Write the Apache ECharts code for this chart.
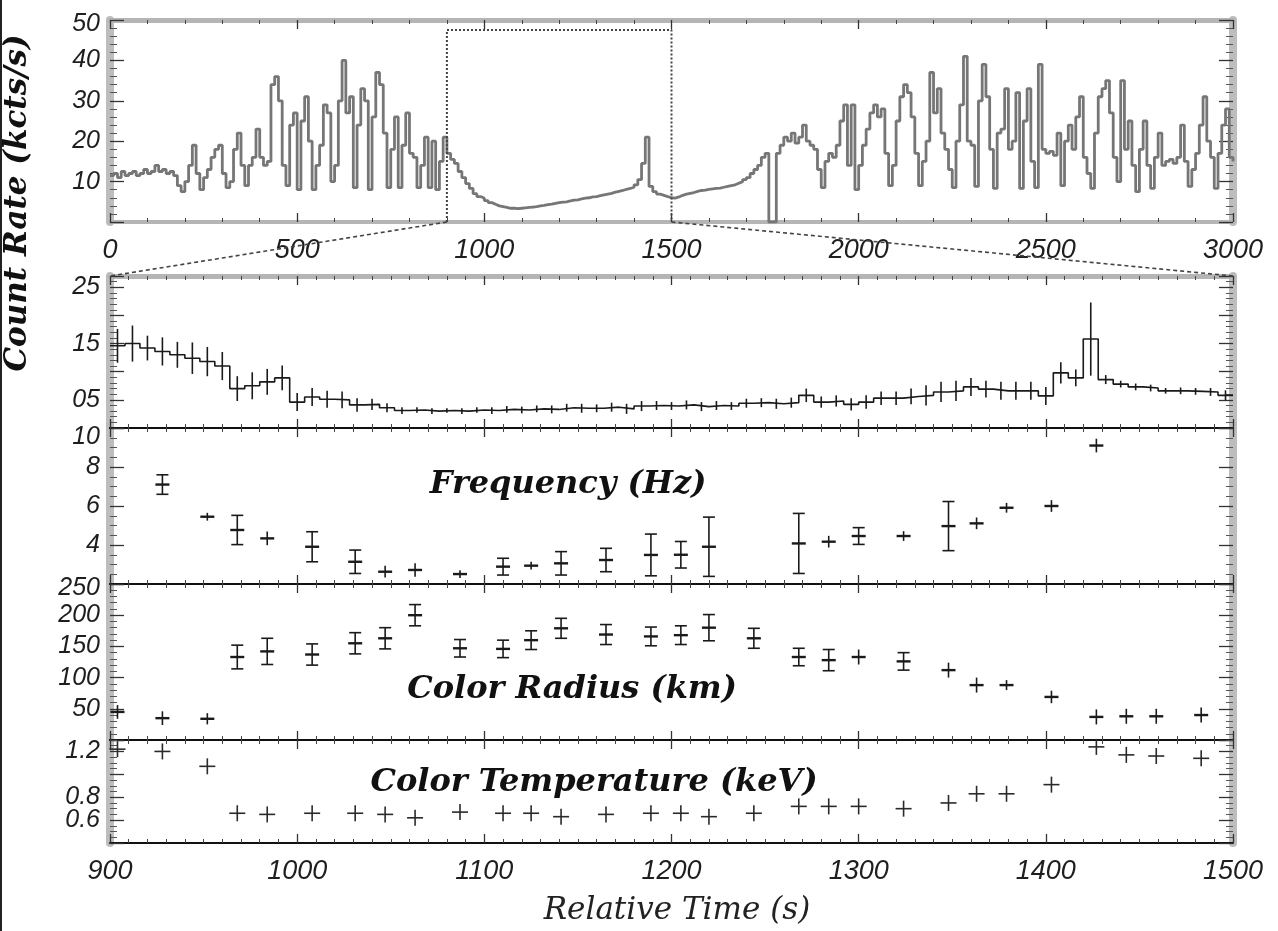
<!DOCTYPE html>
<html><head><meta charset="utf-8">
<script src="https://cdn.jsdelivr.net/npm/echarts@6/dist/echarts.min.js"></script>
<style>html,body{margin:0;padding:0;background:#fff}#c{width:1278px;height:931px}</style>
</head><body><div id="c"></div>
<script>
// ---------- DATA ----------
// Top panel: full light curve, one value every lcStep seconds starting at t=0
const lcStep = 10;
const lcRate = [
  11.5,12,11,12.5,11.5,12,12.5,11.5,12,13,
  12,12.5,14,12.5,13,12,12.5,11.5,9,7.5,
  10,14,19,12,8,11,13,16,18,19,
  12,8.5,10,18,22,14,9,14,16,23,
  16,14,15,34,36,30,14,9,24,27,
  8,25,31,20,8,14,19,29,27,10,
  14,30,40,27,31,8.5,24,33,30,8,
  26,37,34,22,8.5,18,26,8.5,19,27,
  17,16,8.5,14,21,8.5,20,8,15,21,
  17,15.5,14.5,12.5,11,9.5,8.3,7,6.3,5.9,
  5.3,4.8,4.4,4,3.8,3.6,3.4,3.4,3.3,3.4,
  3.5,3.6,3.7,3.8,4,4.1,4.3,4.4,4.6,4.8,
  4.9,5,5.2,5.4,5.5,5.7,5.9,6,6.2,6.3,
  6.5,6.7,6.9,7.1,7.4,7.6,7.8,8.1,8.3,8.6,
  9.2,10.5,14.5,21,8.8,7.5,6.9,6.6,6.3,6,
  5.9,6.2,6.6,6.9,7.1,7.3,7.6,7.8,7.9,8.1,
  8.2,8.3,8.4,8.6,8.8,9,9.2,9.6,10,10.5,
  11,12,13,14,16,17,0,0,17,19,
  21,20,22,19.5,21,24,20,19,18,13,
  8.5,15,17,16,19,25,29,14,29,8,
  14,19,23,27,29,26,28,17,9,14,
  25,31,34,32,26,17,9,15,20,37,
  27,33,22,18,13,8.5,20,29,41,20,
  19,8.8,30,39,31,18,8.3,22,23,33,
  18,20,32,8.3,25,33,15,8.5,39,18,
  17,17.5,16.5,22,9,20,24,18,26,31,
  16,12,8.3,22,31,33,35,27,16,10,
  35,18,25,14,7.5,18,25,14,8.3,16,
  22,14,15,15.5,14.5,16,24,15,8.8,13,
  17,24,31,20,16,8.3,17,24,28,16,
  15
];
// zoom box drawn on the top panel
const boxTime = [900, 1500];
const boxTop = 47.5;

// Second panel: binned count rate 900-1500 s
const zoomBinStart = 900;
const zoomBinWidth = 8;
const zoomRate = [
  14.6,15,14.2,13.6,13,12.4,11.8,11,7,7.5,
  8.2,8.9,4.6,5.5,5.1,5,4.1,4.2,3.6,3.1,
  3.2,3.0,3.1,3.0,3.2,3.1,3.3,3.2,3.4,3.3,
  3.6,3.5,3.5,3.7,3.4,3.9,4.0,3.9,4.1,3.8,
  4.0,3.9,4.4,4.5,4.3,4.5,5.8,4.6,4.8,4.2,
  4.6,5.3,5.3,5.6,5.8,6.4,6.6,7.3,6.9,6.6,
  6.6,6.6,5.7,9.8,8.9,15.8,8.6,7.8,7.3,7.1,
  6.6,6.6,6.5,6.4,5.8
];
const zoomErr = [
  3,3.2,2.2,2.5,2.3,2.8,2.6,2.5,2.2,2.4,
  2.3,2.2,1.6,1.6,1.5,1.5,1.2,1.0,0.8,0.6,
  0.5,0.5,0.4,0.5,0.5,0.6,0.6,0.6,0.6,0.7,
  0.7,0.8,0.7,0.8,0.9,0.9,0.8,0.7,0.8,0.8,
  0.8,0.7,0.8,0.8,0.9,0.9,1.2,1.0,1.0,1.1,
  1.2,1.2,1.2,1.4,1.8,1.8,1.8,1.6,1.5,1.6,
  1.6,1.6,1.6,1.9,1.5,6.5,0.8,0.6,0.6,0.6,
  0.5,0.6,0.6,0.7,0.9
];

// Spectral fits (time of each fit)
const specTime = [904,928,952,968,984,1008,1031,1047,1063,1087,1110,1125,1141,1165,1189,1205,1220,1244,1268,1284,1300,1324,1348,1363,1379,1403,1427,1443,1459,1483];
const freqVal = [null,7.1,5.45,4.77,4.34,3.91,3.14,2.63,2.72,2.51,2.89,2.94,3.06,3.23,3.49,3.5,3.91,null,4.08,4.17,4.46,4.46,4.97,5.11,5.91,6.0,9.1,null,null,null];
const freqErr = [null,0.5,0.2,0.75,0.35,0.77,0.6,0.3,0.35,0.2,0.43,0.2,0.6,0.6,1.07,0.68,1.52,null,1.54,0.3,0.43,0.25,1.26,0.3,0.25,0.3,0.35,null,null,null];
const radiusVal = [45,35,34,133,142,137,155,163,200,147,146,160,179,169,166,168,180,163,133,128,133,126,112,88,88,69,37,38,38,40];
const radiusErr = [11,11,9,19,21,17,17,17,17,14,14,15,16,16,15,15,21,16,14,17,12,14,12,12,8,10,12,12,12,12];
const tempVal = [1.22,1.2,1.07,0.66,0.65,0.66,0.66,0.65,0.62,0.67,0.66,0.66,0.63,0.65,0.66,0.66,0.63,0.66,0.72,0.72,0.72,0.70,0.75,0.83,0.83,0.91,1.24,1.17,1.16,1.14];

// tick labels
const topXLabels = [0,500,1000,1500,2000,2500,3000];
const topYLabels = [10,20,30,40,50];
const zoomYLabelValues = [5,15,25];
const zoomYLabelTexts = ['05','15','25'];
const freqYLabels = [4,6,8,10];
const radiusYLabels = [50,100,150,200,250];
const tempYLabels = [0.6,0.8,1.2];
const bottomXLabels = [900,1000,1100,1200,1300,1400,1500];

// ---------- CHART ----------
const chart = echarts.init(document.getElementById('c'), null, {renderer:'canvas'});
const gridLeft = 110, gridRight = 45;
const panels = [
  {top:20, height:202},
  {top:276, height:152},
  {top:428, height:156},
  {top:584, height:156},
  {top:740, height:103}
];
const labelFamily = '"Liberation Sans", Arial, sans-serif';
const tickFont = {fontFamily:labelFamily, fontStyle:'italic', fontSize:25, color:'#1e1e1e'};

function pick(values, texts, shiftValue, shiftStyle) {
  return function (v) {
    for (let i = 0; i < values.length; i++) {
      if (Math.abs(values[i] - v) < 1e-6) {
        const s = texts ? texts[i] : String(values[i]);
        return (shiftValue != null && Math.abs(shiftValue - v) < 1e-6) ? '{' + shiftStyle + '|' + s + '}' : s;
      }
    }
    return '';
  };
}

const grids = panels.map(p => ({left:gridLeft, right:gridRight, top:p.top, height:p.height, outerBoundsMode:'none', containLabel:false}));

const xAxes = [], yAxes = [];
const yCfg = [
  {min:0, max:50, interval:10, minor:5, fmt:pick(topYLabels, null, 50, 'd1')},
  {min:0, max:27, interval:5, minor:5, fmt:pick(zoomYLabelValues, zoomYLabelTexts)},
  {min:2, max:10, interval:2, minor:4, fmt:pick(freqYLabels, null, 10, 'd2')},
  {min:0, max:250, interval:50, minor:5, fmt:pick(radiusYLabels, null, 250, 'd1')},
  {min:0.4, max:1.3, interval:0.2, minor:4, fmt:pick(tempYLabels)}
];
const richDown = {
  d1:{padding:[8,0,0,0], fontFamily:labelFamily, fontStyle:'italic', fontSize:25, color:'#1e1e1e'},
  d2:{padding:[18,0,0,0], fontFamily:labelFamily, fontStyle:'italic', fontSize:25, color:'#1e1e1e'}
};
panels.forEach((p, i) => {
  const isTop = i === 0;
  const xmin = isTop ? 0 : 900, xmax = isTop ? 3000 : 1500, xint = isTop ? 500 : 100;
  const showBottomLabels = (i === 0 || i === 4);
  const bottomLineColor = isTop ? '#b5b5b5' : '#111';
  const bottomLineWidth = isTop ? 4 : 2;
  const topLineColor = (i <= 1) ? '#b5b5b5' : '#111';
  const topLineWidth = (i <= 1) ? 5 : 2;
  xAxes.push({
    gridIndex:i, type:'value', position:'bottom', min:xmin, max:xmax, interval:xint,
    axisLine:{show:true, onZero:false, lineStyle:{color:bottomLineColor, width:bottomLineWidth}},
    axisTick:{show:true, inside:true, length:9, lineStyle:{color:'#333', width:1.3}},
    minorTick:{show:true, splitNumber: isTop ? 5 : 10, length:4, lineStyle:{color:'#444', width:1}},
    splitLine:{show:false},
    axisLabel:{show:showBottomLabels, margin:15, ...tickFont, fontSize:27, showMinLabel:true, showMaxLabel:true,
      formatter: pick(isTop ? topXLabels : bottomXLabels)}
  });
  xAxes.push({
    gridIndex:i, type:'value', position:'top', min:xmin, max:xmax, interval:xint,
    axisLine:{show:true, onZero:false, lineStyle:{color:topLineColor, width:topLineWidth}},
    axisTick:{show:true, inside:true, length:9, lineStyle:{color:'#333', width:1.3}},
    minorTick:{show:true, splitNumber: isTop ? 5 : 10, length:4, lineStyle:{color:'#444', width:1}},
    splitLine:{show:false}, axisLabel:{show:false}
  });
  const c = yCfg[i];
  yAxes.push({
    gridIndex:i, type:'value', position:'left', min:c.min, max:c.max, interval:c.interval,
    axisLine:{show:true, onZero:false, lineStyle:{color:'#bdbdbd', width:8}},
    axisTick:{show:true, inside:true, length:14, lineStyle:{color:'#333', width:1.3}},
    minorTick:{show:true, splitNumber:c.minor, length:7, lineStyle:{color:'#555', width:1}},
    splitLine:{show:false},
    axisLabel:{show:true, margin:10, ...tickFont, showMinLabel:true, showMaxLabel:true, hideOverlap:false, formatter:c.fmt, rich:richDown}
  });
  yAxes.push({
    gridIndex:i, type:'value', position:'right', min:c.min, max:c.max, interval:c.interval,
    axisLine:{show:true, onZero:false, lineStyle:{color:'#bdbdbd', width:8}},
    axisTick:{show:true, inside:true, length:14, lineStyle:{color:'#333', width:1.3}},
    minorTick:{show:true, splitNumber:c.minor, length:7, lineStyle:{color:'#555', width:1}},
    splitLine:{show:false}, axisLabel:{show:false}
  });
});

const lcData = lcRate.map((v, i) => [i * lcStep, v]);
const boxData = [[boxTime[0], 0], [boxTime[0], boxTop], [boxTime[1], boxTop], [boxTime[1], 0]];
const zoomStep = zoomRate.map((v, i) => [zoomBinStart + i * zoomBinWidth, v]);
zoomStep.push([zoomBinStart + zoomRate.length * zoomBinWidth, zoomRate[zoomRate.length - 1]]);
const zoomErrData = zoomRate.map((v, i) => [zoomBinStart + (i + 0.5) * zoomBinWidth, v, zoomErr[i]]);
const freqData = [], radiusData = [], tempData = [];
specTime.forEach((t, i) => {
  if (freqVal[i] != null) freqData.push([t, freqVal[i], freqErr[i]]);
  radiusData.push([t, radiusVal[i], radiusErr[i]]);
  tempData.push([t, tempVal[i]]);
});

function errorBarItem(capHalf, midHalf, color, width) {
  return function (params, api) {
    const x = api.value(0), y = api.value(1), e = api.value(2);
    const c = api.coord([x, y]);
    const lo = api.coord([x, y - e]);
    const hi = api.coord([x, y + e]);
    const st = {stroke: color, lineWidth: width};
    const ch = [{type:'line', shape:{x1:c[0], y1:hi[1], x2:c[0], y2:lo[1]}, style:st}];
    if (capHalf > 0 && (lo[1] - hi[1]) > 16) {
      ch.push({type:'line', shape:{x1:c[0]-capHalf, y1:hi[1], x2:c[0]+capHalf, y2:hi[1]}, style:st});
      ch.push({type:'line', shape:{x1:c[0]-capHalf, y1:lo[1], x2:c[0]+capHalf, y2:lo[1]}, style:st});
    }
    if (midHalf > 0) {
      ch.push({type:'line', shape:{x1:c[0]-midHalf, y1:c[1], x2:c[0]+midHalf, y2:c[1]}, style:{stroke: color, lineWidth: width + 0.8}});
    }
    return {type:'group', children: ch};
  };
}
function plusItem(half, color, width) {
  return function (params, api) {
    const c = api.coord([api.value(0), api.value(1)]);
    const st = {stroke: color, lineWidth: width};
    return {type:'group', children:[
      {type:'line', shape:{x1:c[0]-half, y1:c[1], x2:c[0]+half, y2:c[1]}, style:st},
      {type:'line', shape:{x1:c[0], y1:c[1]-half, x2:c[0], y2:c[1]+half}, style:st}
    ]};
  };
}

const option = {
  backgroundColor:'#fff',
  animation:false,
  grid: grids,
  xAxis: xAxes,
  yAxis: yAxes,
  series: [
    {type:'line', xAxisIndex:0, yAxisIndex:0, data:lcData, step:'end', symbol:'none',
      lineStyle:{color:'#767676', width:2.8}, z:3},
    {type:'line', xAxisIndex:0, yAxisIndex:0, data:boxData, symbol:'none',
      lineStyle:{color:'#444', width:2, type:'dotted'}, z:5},
    {type:'line', xAxisIndex:2, yAxisIndex:2, data:zoomStep, step:'end', symbol:'none',
      lineStyle:{color:'#1a1a1a', width:1.6}, z:4},
    {type:'custom', xAxisIndex:2, yAxisIndex:2, data:zoomErrData, renderItem:errorBarItem(0, 0, '#1a1a1a', 1.6), z:4, clip:true},
    {type:'custom', xAxisIndex:4, yAxisIndex:4, data:freqData, renderItem:errorBarItem(6, 7, '#1a1a1a', 1.6), z:4},
    {type:'custom', xAxisIndex:6, yAxisIndex:6, data:radiusData, renderItem:errorBarItem(6, 7, '#1a1a1a', 1.6), z:4},
    {type:'custom', xAxisIndex:8, yAxisIndex:8, data:tempData, renderItem:plusItem(8, '#2a2a2a', 1.6), z:4}
  ]
};
chart.setOption(option);

// connector lines from the zoom box to the second panel, and titles
const pA = chart.convertToPixel({xAxisIndex:0, yAxisIndex:0}, [boxTime[0], 0]);
const pB = chart.convertToPixel({xAxisIndex:0, yAxisIndex:0}, [boxTime[1], 0]);
const pC = chart.convertToPixel({xAxisIndex:2, yAxisIndex:2}, [boxTime[0], 27]);
const pD = chart.convertToPixel({xAxisIndex:2, yAxisIndex:2}, [boxTime[1], 27]);
const dash = {stroke:'#444', lineWidth:1.6, lineDash:[4,3]};
const titleFont = 'bold italic 32px "DejaVu Serif", serif';
chart.setOption({
  graphic: {elements: [
    {id:'edge', type:'line', shape:{x1:1, y1:0, x2:1, y2:931}, style:{stroke:'#222', lineWidth:2}},
    {id:'c1', type:'line', shape:{x1:pA[0], y1:pA[1], x2:pC[0], y2:pC[1]}, style:dash, z:10},
    {id:'c2', type:'line', shape:{x1:pB[0], y1:pB[1], x2:pD[0], y2:pD[1]}, style:dash, z:10},
    {id:'t1', type:'text', x:568, y:485, style:{text:'Frequency (Hz)', font:titleFont, fill:'#111', textAlign:'center', textVerticalAlign:'middle'}, z:10},
    {id:'t2', type:'text', x:572, y:690, style:{text:'Color Radius (km)', font:titleFont, fill:'#111', textAlign:'center', textVerticalAlign:'middle'}, z:10},
    {id:'t3', type:'text', x:594, y:783, style:{text:'Color Temperature (keV)', font:titleFont, fill:'#111', textAlign:'center', textVerticalAlign:'middle'}, z:10},
    {id:'yl', type:'text', x:18, y:203, rotation:Math.PI/2, style:{text:'Count Rate (kcts/s)', font:'bold italic 31px "DejaVu Serif", serif', fill:'#111', textAlign:'center', textVerticalAlign:'middle'}, z:10},
    {id:'xl', type:'text', x:677, y:911, style:{text:'Relative Time (s)', font:'italic 31px "DejaVu Serif", serif', fill:'#222', textAlign:'center', textVerticalAlign:'middle'}, z:10}
  ]}
});
</script>
</body></html>
